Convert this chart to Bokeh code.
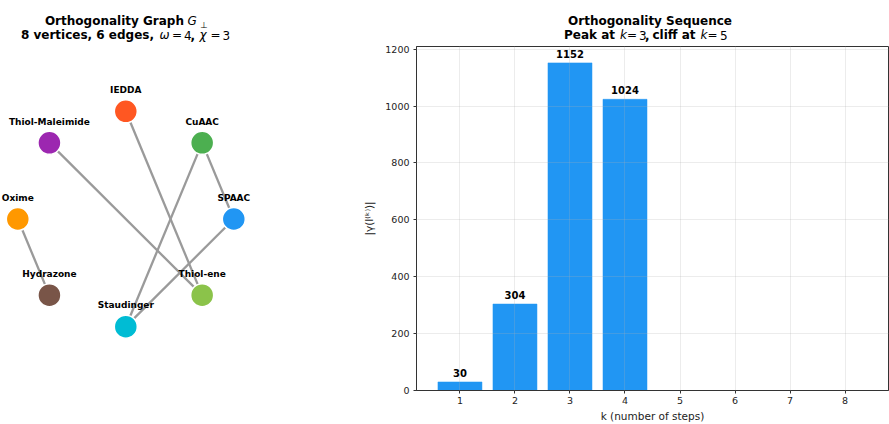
import math
from bokeh.plotting import figure
from bokeh.models import Range1d
from bokeh.layouts import column, row
from bokeh.embed import file_html
from bokeh.resources import INLINE
from bokeh.core.properties import value

FONT = "DejaVu Sans"

# ---------------- data ----------------
nodes = ["SPAAC", "CuAAC", "IEDDA", "Thiol-Maleimide", "Oxime", "Hydrazone", "Staudinger", "Thiol-ene"]
node_colors = ["#2196F3", "#4CAF50", "#FF5722", "#9C27B0", "#FF9800", "#795548", "#00BCD4", "#8BC34A"]
edges = [("Thiol-Maleimide", "Thiol-ene"), ("IEDDA", "Thiol-ene"), ("CuAAC", "Staudinger"),
         ("CuAAC", "SPAAC"), ("SPAAC", "Staudinger"), ("Oxime", "Hydrazone")]

k_values = [1, 2, 3, 4, 5, 6, 7, 8]
counts = [30, 304, 1152, 1024, 0, 0, 0, 0]
y_ticks = [0, 200, 400, 600, 800, 1000, 1200]

TOTAL_W, TOTAL_H = 889, 424
TH = 44                      # title strip height
FRAME_TOP, FRAME_BOTTOM = 46, 391
BASE_FIX = 0.37              # baseline correction (in em) for text rendering

# ---------------- title strip ----------------
t = figure(width=TOTAL_W, height=TH, x_range=Range1d(0, TOTAL_W), y_range=Range1d(TH, 0),
           toolbar_location=None, output_backend="svg", min_border=0,
           x_axis_location=None, y_axis_location=None)
t.grid.visible = False
t.outline_line_color = None

def piece(fig, txt, x, y, size, style, align="left"):
    fig.text(x=[x], y=[y - BASE_FIX * size], text=[txt], text_font=value(FONT),
             text_font_size=f"{size}px", text_font_style=style, text_align=align,
             text_baseline="alphabetic", text_color="black")

L1, L2 = 25, 39
# left title
piece(t, "Orthogonality Graph", 183.5, L1, 12, "bold", "right")
piece(t, "G", 187, L1, 12, "italic")
piece(t, "\u22a5", 199.5, L1 + 2.5, 8.5, "normal")
piece(t, "8 vertices, 6 edges,", 153.5, L2, 12, "bold", "right")
piece(t, "\u03c9", 159, L2, 12, "italic")
piece(t, "=", 171.5, L2, 12, "normal")
piece(t, "4", 183.5, L2, 12, "normal")
piece(t, ",", 190, L2, 12, "bold")
piece(t, "\u03c7", 199, L2, 12, "italic")
piece(t, "=", 210, L2, 12, "normal")
piece(t, "3", 222, L2, 12, "normal")
# right title
piece(t, "Orthogonality Sequence", 649.5, L1, 12, "bold", "center")
piece(t, "Peak at", 563.5, L2, 12, "bold")
piece(t, "k", 619.5, L2, 12, "italic")
piece(t, "=", 626.5, L2, 12, "normal")
piece(t, "3", 638.5, L2, 12, "normal")
piece(t, ",", 644.5, L2, 12, "bold")
piece(t, "cliff at", 652, L2, 12, "bold")
piece(t, "k", 700, L2, 12, "italic")
piece(t, "=", 707, L2, 12, "normal")
piece(t, "5", 719.5, L2, 12, "normal")

# ---------------- graph panel ----------------
GW = 333
GH = TOTAL_H - TH
R = 108.0
cx, cy = 125.3, 219.0          # circle centre in page pixels
g = figure(width=GW, height=GH,
           x_range=Range1d(-cx / R, (GW - cx) / R),
           y_range=Range1d((cy - FRAME_BOTTOM) / R, (cy - FRAME_TOP) / R),
           toolbar_location=None, output_backend="svg",
           min_border_left=0, min_border_right=0,
           min_border_top=FRAME_TOP - TH, min_border_bottom=TOTAL_H - FRAME_BOTTOM,
           x_axis_location=None, y_axis_location=None)
g.grid.visible = False
g.outline_line_color = None

n = len(nodes)
px = [math.cos(2 * math.pi * i / n) for i in range(n)]
py = [math.sin(2 * math.pi * i / n) for i in range(n)]
idx = {name: i for i, name in enumerate(nodes)}

g.segment(x0=[px[idx[a]] for a, b in edges], y0=[py[idx[a]] for a, b in edges],
          x1=[px[idx[b]] for a, b in edges], y1=[py[idx[b]] for a, b in edges],
          line_color="#9a9a9a", line_width=2.3)
g.scatter(x=px, y=py, size=23, fill_color=node_colors, line_color="white", line_width=1.5)
g.text(x=px, y=py, text=nodes, text_font=value(FONT), text_font_size="9px", text_font_style="bold",
       text_align="center", text_baseline="alphabetic", y_offset=-18 - BASE_FIX * 9,
       text_color="black")

# ---------------- bar panel ----------------
BW = TOTAL_W - GW
b = figure(width=BW, height=GH, x_range=Range1d(0.21, 8.79), y_range=Range1d(0, 1209.6),
           toolbar_location=None, output_backend="svg",
           min_border_left=416 - GW, min_border_right=1,
           min_border_top=FRAME_TOP - TH, min_border_bottom=TOTAL_H - FRAME_BOTTOM)
b.vbar(x=k_values, top=counts, width=0.8, fill_color="#2196F3", fill_alpha=1.0,
       line_color="#2196F3", line_width=0.5)
lab_x = [k for k, c in zip(k_values, counts) if c > 0]
lab_y = [c for c in counts if c > 0]
b.text(x=lab_x, y=lab_y, text=[str(c) for c in lab_y], text_font=value(FONT), text_font_size="10px",
       text_font_style="bold", text_align="center", text_baseline="alphabetic",
       y_offset=-5.4 - BASE_FIX * 10, text_color="black", level="overlay")

b.xaxis.ticker = k_values
b.yaxis.ticker = y_ticks
b.xaxis.axis_label = "k (number of steps)"
b.yaxis.axis_label = "|\u03b3(I\u207d\u1d4f\u207e)|"
for ax in (b.xaxis, b.yaxis):
    ax.axis_label_text_font = FONT
    ax.axis_label_text_font_style = "normal"
    ax.axis_label_text_font_size = "10.5px"
    ax.axis_label_text_color = "#222222"
    ax.major_label_text_font = FONT
    ax.major_label_text_font_size = "9.5px"
    ax.major_label_text_color = "#222222"
    ax.major_tick_out = 3
    ax.major_tick_in = 0
    ax.minor_tick_line_color = None
    ax.major_tick_line_color = "#333333"
    ax.axis_line_color = "#333333"
b.xaxis.major_label_standoff = 3
b.xaxis.axis_label_standoff = 3
b.yaxis.major_label_standoff = 4
b.yaxis.axis_label_standoff = 7
b.outline_line_color = "#333333"
b.outline_line_alpha = 1
b.grid.grid_line_color = "#b0b0b0"
b.grid.grid_line_alpha = 0.3
b.grid.grid_line_width = 0.8
b.grid.level = "annotation"

layout = column(t, row(g, b))
open("out.html", "w").write(file_html(layout, INLINE))
